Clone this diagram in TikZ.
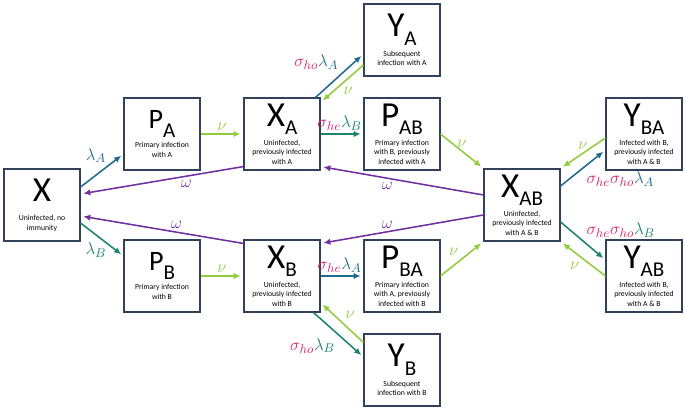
\documentclass[tikz,border=0pt]{standalone}
\usepackage{fontspec}
\setmainfont{Carlito}
\usetikzlibrary{arrows.meta}
\definecolor{boxline}{RGB}{50,64,88}
\definecolor{lamA}{RGB}{32,106,140}
\definecolor{lamB}{RGB}{28,132,108}
\definecolor{nucol}{RGB}{146,204,62}
\definecolor{sig}{RGB}{214,36,110}
\definecolor{omg}{RGB}{112,48,160}
\newcommand{\cmp}[3][25]{{\fontsize{#1}{#1}\selectfont #2}{\fontsize{15}{15}\selectfont\raisebox{-6pt}{#3}}\rule[-9pt]{0pt}{9pt}}
\newcommand{\lA}{\textcolor{lamA}{\lambda_A}}
\newcommand{\lB}{\textcolor{lamB}{\lambda_B}}
\newcommand{\sho}{\textcolor{sig}{\sigma_{ho}}}
\newcommand{\she}{\textcolor{sig}{\sigma_{he}}}

\begin{document}
\begin{tikzpicture}
	\tikzstyle{box} = [draw=boxline, line width=0.8pt, minimum width=1.9cm, minimum height=1.8cm, inner sep=1pt, align=center, font=\fontsize{5.5}{6.7}\selectfont];
	\tikzstyle{flow} = [-{Latex[length=5pt,width=4.5pt]}, line width=1.1pt, shorten >=2pt];
	\tikzstyle{rate} = [font=\fontsize{13}{13}\selectfont, inner sep=2pt];
	\useasboundingbox (-1.05,-5.1) rectangle (16.075,5.125);

	\node[box] (X) {\cmp{X}{}\\Uninfected, no\\immunity};
	\node[box, right of=X, xshift=2cm, yshift=1.775cm] (PA) {\cmp[20]{P}{A}\\Primary infection\\with A};
	\node[box, right of=X, xshift=2cm, yshift=-1.775cm] (PB) {\cmp[20]{P}{B}\\Primary infection\\with B};
	\node[box, right of=PA, xshift=2cm] (XA) {\cmp{X}{A}\\Uninfected,\\previously infected\\with A};
	\node[box, right of=PB, xshift=2cm] (XB) {\cmp{X}{B}\\Uninfected,\\previously infected\\with B};
	\node[box, right of=XA, xshift=2cm] (PAB) {\cmp{P}{AB}\\Primary infection\\with B, previously\\infected with A};
	\node[box, above of=PAB, yshift=1.35cm] (YA) {\cmp{Y}{A}\\Subsequent\\infection with A};
	\node[box, right of=XB, xshift=2cm] (PBA) {\cmp{P}{BA}\\Primary infection\\with A, previously\\infected with B};
	\node[box, below of=PBA, yshift=-1.35cm] (YB) {\cmp{Y}{B}\\Subsequent\\infection with B};
	\node[box, right of=PAB, xshift=2cm, yshift=-1.775cm] (XAB) {\cmp{X}{AB}\\Uninfected,\\previously infected\\with A \& B};
	\node[box, right of=XAB, xshift=2.05cm, yshift=1.775cm] (YBA) {\cmp{Y}{BA}\\Infected with B,\\previously infected\\with A \& B};
	\node[box, right of=XAB, xshift=2.05cm, yshift=-1.775cm] (YAB) {\cmp{Y}{AB}\\Infected with B,\\previously infected\\with A \& B};

	\draw[flow, lamA] ([yshift=4.5mm]X.east) -- node[rate, above, xshift=-1.5mm, yshift=1mm] {$\lambda_A$} ([yshift=-5mm]PA.west);
	\draw[flow, lamB] ([yshift=-4.5mm]X.east) -- node[rate, below, xshift=-1.5mm] {$\lambda_B$} ([yshift=5mm]PB.west);
	\draw[flow, nucol] (PA) -- node[rate, above] {$\nu$} (XA);
	\draw[flow, nucol] (PB) -- node[rate, above] {$\nu$} (XB);
	\draw[flow, omg] ([yshift=1mm]XA.south west) -- node[rate, below, pos=0.35] {$\omega$} ([yshift=2.75mm]X.east);
	\draw[flow, omg] ([yshift=-1mm]XB.north west) -- node[rate, above, pos=0.41] {$\omega$} ([yshift=-2.75mm]X.east);
	\draw[flow, omg] ([yshift=2.5mm]XAB.west) -- node[rate, below, pos=0.59] {$\omega$} ([yshift=1mm]XA.south east);
	\draw[flow, omg] ([yshift=-2.5mm]XAB.west) -- node[rate, above, pos=0.59] {$\omega$} ([yshift=-1mm]XB.north east);
	\draw[flow, lamA] ([xshift=-1.25mm]XA.north east) -- node[rate, above left, pos=0.55] {$\sho\lA$} ([yshift=-3.5mm]YA.west);
	\draw[flow, nucol] ([yshift=-6.25mm]YA.west) -- node[rate, below right, xshift=-0.5mm] {$\nu$} ([yshift=-1.25mm]XA.north east);
	\draw[flow, lamB] (XA) -- node[rate, above, xshift=-0.6mm] {$\she\lB$} (PAB);
	\draw[flow, nucol] (PAB.east) -- node[rate, above] {$\nu$} (XAB.north west);
	\draw[flow, nucol] (PBA.east) -- node[rate, above left] {$\nu$} (XAB.south west);
	\draw[flow, lamA] (XB) -- node[rate, above, xshift=-0.6mm] {$\she\lA$} (PBA);
	\draw[flow, lamB] ([xshift=-1.75mm]XB.south east) -- node[rate, below left] {$\sho\lB$} ([yshift=3.25mm]YB.west);
	\draw[flow, nucol] ([yshift=-2.25mm]YB.north west) -- node[rate, above right] {$\nu$} ([yshift=2.5mm]XB.south east);
	\draw[flow, lamA] ([yshift=4.75mm]XAB.east) -- node[rate, below right] {$\she\sho\lA$} ([yshift=-4mm]YBA.west);
	\draw[flow, nucol] ([yshift=-1mm]YBA.west) -- node[rate, above] {$\nu$} (XAB.north east);
	\draw[flow, lamB] ([yshift=-4.25mm]XAB.east) -- node[rate, above right] {$\she\sho\lB$} ([yshift=4mm]YAB.west);
	\draw[flow, nucol] (YAB.west) -- node[rate, below left] {$\nu$} (XAB.south east);
\end{tikzpicture}
\end{document}
